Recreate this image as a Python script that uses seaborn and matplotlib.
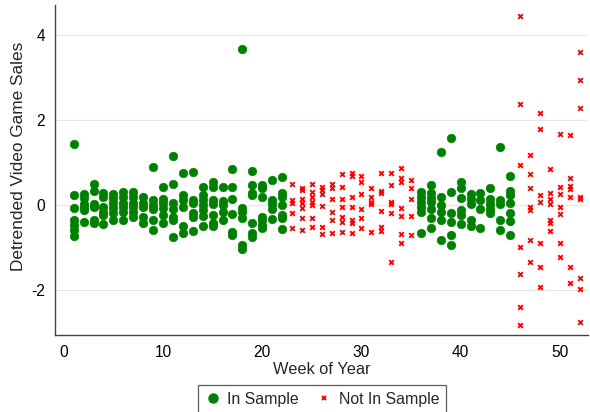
import pandas as pd
import seaborn as sns
import matplotlib.pyplot as plt
from matplotlib.lines import Line2D

# weeks used for estimation (green) vs held out (red)
weeks_in = list(range(1, 23)) + list(range(36, 46))
weeks_out = list(range(23, 36)) + list(range(46, 53))

# detrended sales, one list per week
sales_in = [
    [1.44, 0.24, -0.07, -0.35, -0.47, -0.59, -0.73],          # 1
    [0.25, 0.15, 0.02, -0.05, -0.12, -0.40],                   # 2
    [0.49, 0.33, 0.02, -0.05, -0.35, -0.42],                   # 3
    [0.28, 0.19, -0.05, -0.16, -0.24, -0.45],                  # 4
    [0.25, 0.16, 0.05, -0.07, -0.19, -0.35],                   # 5
    [0.31, 0.19, 0.05, -0.05, -0.16, -0.35],                   # 6
    [0.31, 0.19, 0.05, -0.05, -0.16, -0.28],                   # 7
    [0.19, 0.05, -0.05, -0.28, -0.42],                         # 8
    [0.89, 0.12, 0.00, -0.10, -0.35, -0.59],                   # 9
    [0.42, 0.14, 0.05, -0.07, -0.24, -0.42],                   # 10
    [1.15, 0.49, 0.05, -0.10, -0.28, -0.35, -0.75],            # 11
    [0.75, 0.24, 0.12, -0.05, -0.49, -0.66],                   # 12
    [0.78, 0.12, 0.05, -0.19, -0.28, -0.61],                   # 13
    [0.42, 0.24, 0.12, 0.00, -0.12, -0.26, -0.49],             # 14
    [0.54, 0.42, 0.12, 0.02, -0.24, -0.42, -0.49],             # 15
    [0.42, 0.10, 0.00, -0.16, -0.35],                          # 16
    [0.85, 0.42, 0.14, -0.21, -0.64, -0.70],                   # 17
    [3.67, -0.07, -0.16, -0.31, -0.95, -1.04],                 # 18
    [0.80, 0.47, 0.28, 0.24, -0.42, -0.66, -0.75],             # 19
    [0.47, 0.40, 0.19, -0.28, -0.35, -0.47, -0.54],            # 20
    [0.59, 0.12, 0.02, -0.09, -0.33],                          # 21
    [0.66, 0.28, 0.19, 0.00, -0.24, -0.31, -0.56],             # 22
    [0.31, 0.19, 0.07, -0.05, -0.16, -0.66],                   # 36
    [0.47, 0.28, 0.16, 0.07, -0.09, -0.31, -0.54],             # 37
    [1.25, 0.19, 0.00, -0.16, -0.35, -0.82],                   # 38
    [1.58, 0.31, -0.19, -0.40, -0.71, -0.94],                  # 39
    [0.54, 0.40, 0.16, -0.12, -0.24, -0.45],                   # 40
    [0.26, 0.14, 0.02, -0.35, -0.49],                          # 41
    [0.28, 0.12, -0.09, -0.54],                                # 42
    [0.40, 0.14, 0.02, -0.09, -0.19],                          # 43
    [1.37, 0.12, 0.02, -0.35, -0.59],                          # 44
    [0.68, 0.33, 0.24, 0.05, -0.19, -0.38, -0.71],             # 45
]

sales_out = [
    [0.49, 0.12, 0.05, -0.19, -0.54],                          # 23
    [0.40, 0.35, 0.14, 0.05, -0.07, -0.31, -0.59],             # 24
    [0.49, 0.31, 0.19, 0.07, 0.00, -0.31, -0.52],              # 25
    [0.42, 0.35, 0.26, -0.02, -0.52, -0.68],                   # 26
    [0.49, 0.40, 0.14, -0.16, -0.35, -0.66],                   # 27
    [0.73, 0.42, 0.14, -0.05, -0.28, -0.40, -0.64],            # 28
    [0.75, 0.68, 0.19, -0.05, -0.35, -0.42, -0.66],            # 29
    [0.68, 0.54, 0.26, -0.09, -0.31, -0.54],                   # 30
    [0.40, 0.19, 0.07, 0.02, -0.64],                           # 31
    [0.75, 0.33, 0.28, -0.14, -0.52, -0.61],                   # 32
    [0.75, 0.47, 0.07, 0.02, -0.19, -1.34],                    # 33
    [0.87, 0.64, 0.54, -0.07, -0.26, -0.68, -0.89],            # 34
    [0.59, 0.40, 0.14, -0.26, -0.71],                          # 35
    [4.45, 2.38, 0.94, -0.99, -1.62, -2.40, -2.82],            # 46
    [1.18, 0.73, 0.40, -0.05, -0.12, -0.82, -1.34],            # 47
    [2.16, 1.79, 0.24, 0.07, -0.89, -1.46, -1.93],             # 48
    [0.85, 0.28, 0.14, 0.02, -0.35, -0.42, -0.61],             # 49
    [1.67, 0.42, 0.26, -0.05, -0.21, -0.89, -1.22],            # 50
    [1.65, 0.64, 0.45, 0.38, 0.19, -1.46, -1.84],              # 51
    [3.60, 2.94, 2.28, 0.19, 0.14, -1.72, -1.98, -2.75],       # 52
]

def to_frame(weeks, vals):
    rows = [(w, v) for w, vs in zip(weeks, vals) for v in vs]
    return pd.DataFrame(rows, columns=['week', 'sales'])

df_in = to_frame(weeks_in, sales_in)
df_out = to_frame(weeks_out, sales_out)

sns.set_style('white')
plt.rcParams['font.family'] = ['Liberation Sans', 'DejaVu Sans']
plt.rcParams['axes.unicode_minus'] = False

fig = plt.figure(figsize=(5.9, 4.12), dpi=100)
ax = fig.add_axes([0.093, 0.187, 0.903, 0.801])

sns.scatterplot(data=df_in, x='week', y='sales', color='#008000', marker='o',
                s=40, edgecolor='#008000', linewidth=0.3, ax=ax, zorder=3)
sns.scatterplot(data=df_out, x='week', y='sales', color='#ff0000', marker='x',
                s=11, linewidth=1.4, ax=ax, zorder=3)

ax.set_xlim(-0.9, 52.8)
ax.set_ylim(-3.06, 4.7)
ax.set_xticks([0, 10, 20, 30, 40, 50])
ax.set_yticks([-2, 0, 2, 4])
ax.yaxis.grid(True, color='#e8e8e8', linewidth=0.9)
ax.set_axisbelow(True)
sns.despine(ax=ax)
for side in ['left', 'bottom']:
    ax.spines[side].set_color('#444444')
    ax.spines[side].set_linewidth(1.0)
ax.tick_params(axis='both', direction='out', length=4, width=0.9,
               color='#444444', labelsize=11.2, labelcolor='black', pad=3)
ax.set_xlabel('Week of Year', fontsize=11.8, labelpad=2)
ax.set_ylabel('Detrended Video Game Sales', fontsize=12.4)
ax.yaxis.set_label_coords(-0.054, 0.54)

handles = [
    Line2D([], [], marker='o', color='#008000', linestyle='', markersize=6.5),
    Line2D([], [], marker='x', color='#ff0000', linestyle='', markersize=3.5,
           markeredgewidth=1.4),
]
leg = fig.legend(handles, ['In Sample', 'Not In Sample'], loc='upper center',
                 bbox_to_anchor=(0.546, 0.066), borderaxespad=0, ncol=2,
                 fontsize=11.4, frameon=True, fancybox=False,
                 handletextpad=0.4, columnspacing=1.1, borderpad=0.45,
                 handlelength=1.0)
leg.get_frame().set_edgecolor('#333333')
leg.get_frame().set_linewidth(0.9)

fig.savefig('out.png', dpi=100)
